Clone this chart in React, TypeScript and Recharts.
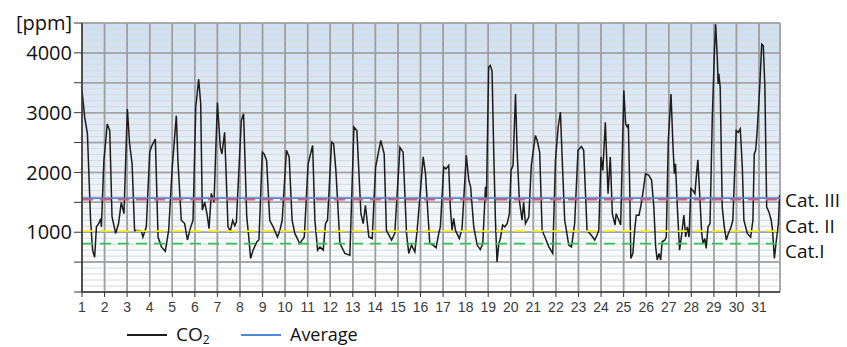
import React from 'react';
import { ComposedChart, Line, XAxis, YAxis, CartesianGrid, ReferenceLine } from 'recharts';

// CO2 readings: [day (fractional), ppm]
const week1: [number, number][] = [
  [1.0, 3370], [1.12, 2920], [1.24, 2650], [1.38, 1200], [1.47, 700], [1.56, 580], [1.64, 1090], [1.75, 1150],
  [1.83, 1230], [1.86, 1090], [1.97, 2200], [2.12, 2810], [2.23, 2700], [2.33, 1260], [2.49, 980], [2.62, 1145],
  [2.74, 1500], [2.86, 1310], [3.01, 3060], [3.11, 2480], [3.22, 2145], [3.33, 1030], [3.5, 1030], [3.63, 1020],
  [3.7, 920], [3.85, 1090], [4.0, 2340], [4.1, 2450], [4.25, 2560], [4.37, 920], [4.52, 755], [4.69, 680],
  [4.84, 1030], [5.0, 2090], [5.18, 2950], [5.25, 2200], [5.4, 1200], [5.55, 1145], [5.67, 870], [5.82, 1090],
  [5.92, 1200], [6.04, 3090], [6.17, 3560], [6.26, 3150], [6.33, 1370], [6.44, 1500], [6.55, 1280], [6.63, 1060],
  [6.73, 1650], [6.85, 1500], [7.0, 3170], [7.13, 2420], [7.2, 2310], [7.32, 2670], [7.47, 1090], [7.57, 1020],
  [7.68, 1200], [7.77, 1110], [7.84, 1170], [8.06, 2870], [8.16, 2980], [8.3, 1260], [8.39, 920], [8.47, 560],
  [8.58, 700], [8.75, 840],
];
const week2: [number, number][] = [
  [8.84, 870], [8.99, 2340], [9.07, 2310], [9.18, 2200], [9.32, 1200], [9.47, 1090], [9.66, 920], [9.77, 1030],
  [9.87, 1200], [10.06, 2370], [10.18, 2260], [10.31, 1200], [10.43, 980], [10.65, 810], [10.85, 920], [11.02, 2145],
  [11.22, 2450], [11.32, 1200], [11.44, 700], [11.54, 755], [11.69, 700], [11.79, 1145], [11.88, 1200], [12.06, 2510],
  [12.15, 2480], [12.25, 2035], [12.43, 810], [12.65, 645], [12.87, 617], [13.05, 2760], [13.18, 2700], [13.36, 1310],
  [13.46, 1145], [13.56, 1450], [13.71, 920], [13.86, 895], [14.01, 2090], [14.24, 2535], [14.39, 2310], [14.49, 1030],
  [14.72, 870], [14.86, 980], [15.09, 2420], [15.23, 2340], [15.38, 980], [15.48, 645], [15.6, 785], [15.75, 670],
  [15.85, 1030], [16.12, 2260], [16.22, 1980], [16.41, 810], [16.56, 785],
];
const week3: [number, number][] = [
  [16.69, 740], [16.81, 980], [16.88, 1090], [17.03, 2090], [17.13, 2060], [17.25, 2120], [17.32, 1420], [17.4, 1030],
  [17.47, 1230], [17.55, 1030], [17.72, 895], [17.84, 1060], [18.03, 2285], [18.14, 1870], [18.22, 1760], [18.36, 1090],
  [18.51, 785], [18.65, 710], [18.76, 810], [18.88, 1760], [18.92, 1535], [19.02, 3760], [19.09, 3790], [19.17, 3700],
  [19.25, 2260], [19.32, 1200], [19.39, 505], [19.47, 810], [19.54, 895], [19.64, 1120], [19.73, 1090], [19.84, 1145],
  [19.94, 1310], [20.01, 2035], [20.1, 2120], [20.21, 3310], [20.28, 2370], [20.38, 1535], [20.5, 1200], [20.57, 1500],
  [20.65, 1145], [20.8, 1255], [20.91, 2120], [21.09, 2620], [21.17, 2535], [21.28, 2340], [21.39, 1030], [21.54, 895],
  [21.69, 755], [21.86, 645], [21.98, 2200], [22.1, 2760], [22.2, 3010], [22.27, 2310], [22.39, 1200], [22.57, 785],
  [22.69, 755], [22.83, 1145], [22.98, 2370], [23.13, 2435], [23.23, 2370], [23.38, 1030], [23.57, 950], [23.72, 870],
  [23.82, 950], [23.9, 1030], [24.0, 2260], [24.08, 2035], [24.19, 2840], [24.31, 1645], [24.41, 2260], [24.5, 1310],
];
const week4: [number, number][] = [
  [24.62, 1120], [24.67, 1310], [24.79, 1200], [24.87, 1120], [25.01, 3370], [25.09, 2810], [25.16, 2760], [25.21, 2810],
  [25.27, 1760], [25.32, 560], [25.41, 645], [25.49, 1030], [25.56, 1285], [25.68, 1285], [25.77, 1450], [25.87, 1700],
  [25.97, 1980], [26.12, 1950], [26.24, 1870], [26.34, 1420], [26.42, 755], [26.49, 535], [26.57, 645], [26.64, 535],
  [26.71, 840], [26.83, 870], [26.89, 920], [26.98, 2535], [27.1, 3310], [27.19, 2420], [27.25, 1980], [27.3, 2145],
  [27.38, 1420], [27.48, 700], [27.57, 950], [27.67, 1285], [27.75, 920], [27.82, 1090], [27.9, 920], [27.98, 1730],
  [28.07, 1700], [28.16, 1645], [28.22, 1925], [28.29, 2210], [28.37, 1645], [28.46, 980], [28.52, 810], [28.6, 895],
  [28.66, 730], [28.74, 1090], [28.83, 1145],
];
const week5: [number, number][] = [
  [28.93, 2920], [29.02, 3980], [29.08, 4480], [29.15, 3925], [29.19, 3480], [29.22, 3650], [29.28, 3425], [29.37, 1420],
  [29.46, 1090], [29.55, 870], [29.64, 980], [29.74, 1060], [29.84, 1200], [29.99, 2700], [30.08, 2670], [30.17, 2730],
  [30.26, 2090], [30.33, 1200], [30.48, 980], [30.63, 920], [30.73, 1200], [30.79, 2310], [30.85, 2370], [30.92, 2700],
  [31.03, 3425], [31.12, 4145], [31.19, 4120], [31.26, 3425], [31.34, 1420], [31.44, 1340], [31.54, 1200], [31.6, 1030],
  [31.68, 560], [31.77, 870], [31.86, 1145], [31.91, 1620],
];

const averageCO2 = 1570;
const categoryNames = ['Cat. III', 'Cat. II', 'Cat.I'];
const categoryLimits = [1545, 1020, 810];
const dayTicks = [1, 2, 3, 4, 5, 6, 7, 8, 9, 10, 11, 12, 13, 14, 15, 16, 17, 18, 19, 20, 21, 22, 23, 24, 25, 26, 27, 28, 29, 30, 31];
const dayDomainEnd = 31.93;
const yTicks = [0, 500, 1000, 1500, 2000, 2500, 3000, 3500, 4000, 4500];
const yTickLabels: Record<number, string> = { 1000: '1000', 2000: '2000', 3000: '3000', 4000: '4000', 4500: '[ppm]' };
const majorLevels = [500, 1000, 1500, 2000, 2500, 3000, 3500, 4000, 4500];
const minorLevels = [
  100, 200, 300, 400, 600, 700, 800, 900, 1100, 1200, 1300, 1400, 1600, 1700, 1800, 1900,
  2100, 2200, 2300, 2400, 2600, 2700, 2800, 2900, 3100, 3200, 3300, 3400, 3600, 3700, 3800, 3900,
  4100, 4200, 4300, 4400,
];
const legendLabels = ['CO', 'Average'];

const data = [...week1, ...week2, ...week3, ...week4, ...week5].map(([t, v]) => ({ t, co2: v }));

const categoryStyles = [
  { color: '#e2566a', dy: 1 },
  { color: '#f1e41e', dy: -5 },
  { color: '#36c05c', dy: 8 },
];

const YTick = (props: any) => {
  const { x, y, payload } = props;
  const label = yTickLabels[payload.value];
  if (!label) return <g />;
  return (
    <text x={x} y={y} dy="0.355em" textAnchor="end" fontSize={20} fontFamily="Open Sans" fill="#111">
      {label}
    </text>
  );
};

const XTick = (props: any) => {
  const { x, y, payload } = props;
  return (
    <text x={x} y={y} dy="0.71em" textAnchor="middle" fontSize={14} fontFamily="Liberation Sans" fill="#3a3a3a">
      {payload.value}
    </text>
  );
};

const makeCatLabel = (name: string, dy: number) => (props: any) => {
  const vb = props.viewBox || {};
  return (
    <text
      x={vb.x + vb.width + 5}
      y={vb.y + dy}
      dy="0.355em"
      textAnchor="start"
      fontSize={19}
      fontFamily="Open Sans"
      fill="#111"
    >
      {name}
    </text>
  );
};

export default function App() {
  return (
    <div style={{ position: 'absolute', left: 0, top: 0, width: 847, height: 347, background: '#fff' }}>
      <svg width={0} height={0} style={{ position: 'absolute' }}>
        <defs>
          <linearGradient id="plotBg" x1="0" y1="0" x2="0" y2="1">
            <stop offset="0%" stopColor="#cddff1" />
            <stop offset="50%" stopColor="#e6eef8" />
            <stop offset="85%" stopColor="#fafbfd" />
            <stop offset="100%" stopColor="#ffffff" />
          </linearGradient>
        </defs>
      </svg>
      <ComposedChart
        width={847}
        height={347}
        data={data}
        margin={{ top: 23, right: 67, bottom: 25, left: 0 }}
      >
        <CartesianGrid
          stroke="#a3a3a3"
          strokeWidth={1.5}
          fill="url(#plotBg)"
          fillOpacity={1}
        />
        {minorLevels.map((v) => (
          <ReferenceLine key={v} y={v} stroke="#d9d9d9" strokeWidth={1} />
        ))}
        <ReferenceLine x={dayDomainEnd} stroke="#a3a3a3" strokeWidth={1.5} />
        {majorLevels.map((v) => (
          <ReferenceLine key={'m' + v} y={v} stroke="#a3a3a3" strokeWidth={1.5} />
        ))}
        {dayTicks.map((d) => (
          <ReferenceLine key={'d' + d} x={d} stroke="#9e9e9e" strokeWidth={1.5} />
        ))}
        <XAxis
          dataKey="t"
          type="number"
          domain={[1, dayDomainEnd]}
          ticks={dayTicks}
          allowDataOverflow
          height={30}
          tickSize={5}
          tickMargin={5}
          stroke="#333"
          tickLine={{ stroke: '#333' }}
          axisLine={{ stroke: '#333', strokeWidth: 1.5 }}
          tick={<XTick />}
          interval={0}
        />
        <YAxis
          type="number"
          domain={[0, 4500]}
          ticks={yTicks}
          allowDataOverflow
          width={82}
          tickSize={8}
          tickMargin={2}
          stroke="#333"
          tickLine={{ stroke: '#333' }}
          axisLine={{ stroke: '#333', strokeWidth: 1.5 }}
          tick={<YTick />}
          interval={0}
        />
        <Line
          type="linear"
          dataKey="co2"
          stroke="#1c1c1c"
          strokeWidth={1.5}
          dot={false}
          isAnimationActive={false}
        />
        <ReferenceLine y={averageCO2} stroke="#4d88d6" strokeWidth={1.8} />
        {categoryNames.map((name, i) => (
          <ReferenceLine
            key={name}
            y={categoryLimits[i]}
            stroke={categoryStyles[i].color}
            strokeWidth={1.8}
            strokeDasharray="11 7"
            label={makeCatLabel(name, categoryStyles[i].dy)}
          />
        ))}
      </ComposedChart>
      <svg width={847} height={347} style={{ position: 'absolute', left: 0, top: 0, pointerEvents: 'none' }}>
        <line x1={127} y1={335} x2={167} y2={335} stroke="#1c1c1c" strokeWidth={1.8} />
        <text x={176} y={341} fontSize={19} fontFamily="Open Sans" fill="#111">
          {legendLabels[0]}
          <tspan fontSize={12} dy={3}>2</tspan>
        </text>
        <line x1={241} y1={335} x2={281} y2={335} stroke="#4d88d6" strokeWidth={1.8} />
        <text x={290} y={341} fontSize={18} fontFamily="Open Sans" fill="#111">
          {legendLabels[1]}
        </text>
      </svg>
    </div>
  );
}
